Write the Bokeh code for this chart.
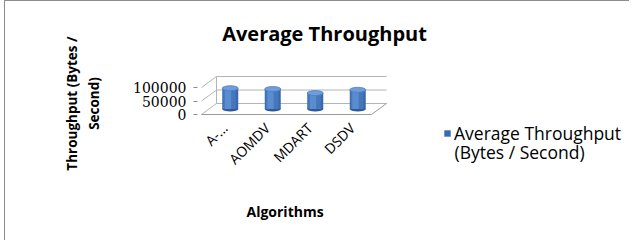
from bokeh.plotting import figure
from bokeh.models import (Range1d, FixedTicker, Legend, LegendItem, Label, Title,
                          BasicTickFormatter)
from bokeh.core.properties import value
from bokeh.embed import file_html
from bokeh.resources import INLINE
import math

# ---------------- data ----------------
algorithms = ["A-...", "AOMDV", "MDART", "DSDV"]
throughput = [77000, 74000, 59000, 71000]
y_ticks = [0, 50000, 100000]
title_text = "Average Throughput"
y_title = "Throughput (Bytes /\nSecond)"
x_title = "Algorithms"
legend_line1 = "Average Throughput"
legend_line2 = "(Bytes / Second)"

# ---------------- layout (canvas px) ----------------
W, H = 625, 240
FL, FR, FT, FB = 192, 622, 10, 194          # frame edges
FLOOR_L, FLOOR_R = 196, 366                  # front floor edges
Y0_PX, Y100K_PX = 113, 86                    # front plane: value 0 and 100000
DX_PX, DY_PX = 15, 11                        # 3-D depth offset
CYL_W_PX, ELL_H_PX = 16, 5
XLAB_PX = 124                                # anchor row of category labels

n = len(algorithms)
ppx = (FLOOR_R - FLOOR_L) / n
ppy = (Y0_PX - Y100K_PX) / 100000.0
x_start = -0.5 - (FLOOR_L - FL) / ppx
x_end = n - 0.5 + (FR - FLOOR_R) / ppx
y_start = -(FB - Y0_PX) / ppy
y_end = (Y0_PX - FT) / ppy
dx = DX_PX / ppx
dy = DY_PX / ppy

FONT = "Open Sans"

p = figure(width=W, height=H, output_backend="svg", toolbar_location=None,
           x_range=Range1d(x_start, x_end), y_range=Range1d(y_start, y_end),
           min_border_left=FL, min_border_right=W - FR,
           min_border_top=FT, min_border_bottom=H - FB)
p.styles = {"margin-left": "4px", "border-left": "1px solid #8c8c8c",
            "border-top": "1px solid #8c8c8c"}
p.outline_line_color = None
p.grid.visible = False
p.background_fill_color = "white"
p.border_fill_color = "white"

GRID = "#b4b4b4"
# back wall gridlines
left_b, right_b = -0.5 + dx, n - 0.5 + dx
p.segment(x0=[left_b] * len(y_ticks), y0=[t + dy for t in y_ticks],
          x1=[right_b] * len(y_ticks), y1=[t + dy for t in y_ticks],
          line_color=GRID, line_width=1)
# side wall gridlines
p.segment(x0=[-0.5] * len(y_ticks), y0=y_ticks,
          x1=[left_b] * len(y_ticks), y1=[t + dy for t in y_ticks],
          line_color=GRID, line_width=1)
p.segment(x0=[left_b], y0=[y_ticks[0] + dy], x1=[left_b], y1=[y_ticks[-1] + dy],
          line_color=GRID, line_width=1)
# floor
p.segment(x0=[-0.5, n - 0.5], y0=[0, 0], x1=[n - 0.5, right_b], y1=[0, dy],
          line_color="#9a9a9a", line_width=1)

# cylinders
xs = [i + dx / 2 for i in range(n)]
base = dy / 2
tops = [v + base for v in throughput]
cw = CYL_W_PX / ppx
eh = ELL_H_PX / ppy
p.ellipse(x=xs, y=[base] * n, width=cw, height=eh, fill_color="#2d5a96",
          line_color=None)
body = p.vbar(x=xs, bottom=base, top=tops, width=cw, fill_color="#3a6aab",
              line_color=None)
p.vbar(x=[x - 0.05 * cw for x in xs], bottom=base, top=tops, width=0.8 * cw,
       fill_color="#4477bb", line_color=None)
p.vbar(x=[x - 0.14 * cw for x in xs], bottom=base, top=tops, width=0.4 * cw,
       fill_color="#5a8cd0", line_color=None)
p.ellipse(x=xs, y=tops, width=cw, height=eh, fill_color="#6e9cdc",
          line_color="#4f7fc2", line_width=0.8)

# category labels (rotated), anchored at the front category centres
lab_y = (Y0_PX - XLAB_PX) / ppy
p.text(x=list(range(n)), y=[lab_y] * n, text=algorithms, angle=math.pi / 4,
       text_align="right", text_baseline="middle", x_offset=2,
       text_font=value(FONT), text_font_size=value("14px"), text_color="black")

# y axis
p.yaxis.ticker = FixedTicker(ticks=y_ticks)
p.yaxis.formatter = BasicTickFormatter(use_scientific=False)
p.yaxis.axis_line_color = None
p.yaxis.major_tick_line_color = "#8c8c8c"
p.yaxis.major_tick_out = 4
p.yaxis.major_tick_in = 0
p.yaxis.minor_tick_line_color = None
p.yaxis.major_label_standoff = 7
p.yaxis.major_label_text_font = "DejaVu Serif"
p.yaxis.major_label_text_font_size = "14px"
p.yaxis.major_label_text_color = "black"
p.yaxis.axis_label = y_title
p.yaxis.axis_label_text_font = FONT
p.yaxis.axis_label_text_font_style = "bold"
p.yaxis.axis_label_text_font_size = "13.5px"
p.yaxis.axis_label_text_color = "black"
p.yaxis.axis_label_standoff = 27

# chart title (inside the frame area, frame-relative screen units)
p.add_layout(Label(x=127, y=FB - 32, x_units="screen", y_units="screen",
                   text=title_text, text_font=FONT, text_font_style="bold",
                   text_font_size="20px", text_align="center",
                   text_baseline="middle", text_color="black"))

# x axis title (category labels are drawn above)
p.xaxis.visible = False
p.add_layout(Title(text=x_title, align="left", offset=49, standoff=9,
                   text_font=FONT, text_font_style="bold", text_font_size="14px",
                   text_color="black"), "below")

# legend (inside the wide frame)
legend = Legend(items=[LegendItem(label=legend_line1, renderers=[body])],
                location=(246, FB - 144), padding=0, margin=0,
                border_line_color=None, background_fill_alpha=0,
                glyph_width=8, glyph_height=8, label_height=20, label_standoff=3,
                label_text_font=FONT, label_text_font_size="17.5px",
                label_text_color="black")
p.add_layout(legend, "center")
p.add_layout(Label(x=257, y=FB - 150, x_units="screen", y_units="screen",
                   text=legend_line2, text_font=FONT, text_font_size="17.5px",
                   text_baseline="middle", text_color="black"))

open("out.html", "w").write(file_html(p, INLINE))
